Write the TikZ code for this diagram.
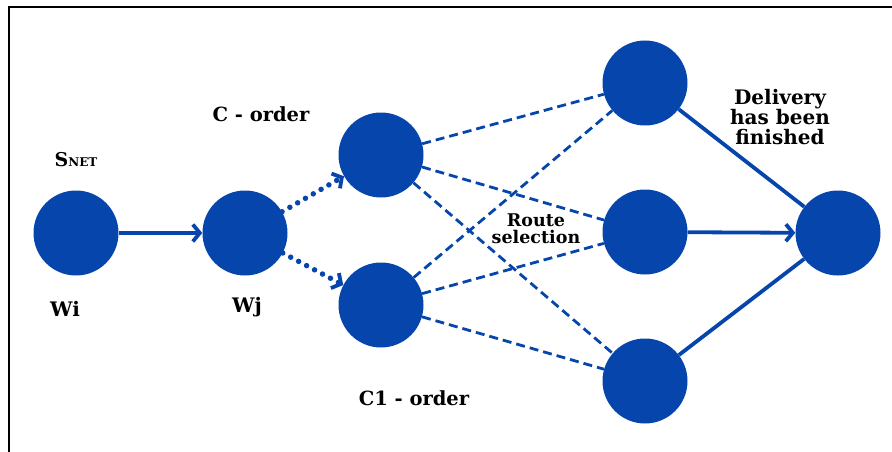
\documentclass[tikz,border=0pt]{standalone}
\usepackage{fontspec}
\setmainfont{DejaVu Serif}
\usetikzlibrary{arrows.meta}
\definecolor{netblue}{RGB}{6,70,172}
\tikzset{
  station/.style={circle, fill=netblue, minimum size=85pt, inner sep=0pt},
  solidlink/.style={draw=netblue, line width=3.8pt},
  dashlink/.style={draw=netblue, line width=2.8pt, dash pattern=on 9pt off 5pt},
  dotlink/.style={draw=netblue, line width=5.5pt, line cap=round, dash pattern=on 0pt off 9pt},
  tip/.style={-{Straight Barb[length=7pt,width=17pt,line width=3.8pt]}},
  lbl/.style={font=\bfseries\fontsize{19.5}{20}\selectfont, text=black, align=center, inner sep=0pt}
}
\begin{document}
\begin{tikzpicture}[x=1pt, y=-1pt]
\useasboundingbox (0,0) rectangle (892,452);
% frame
\draw[line width=1.5pt] (9,452) -- (9,7) -- (892,7);

% stations
\node[station] (wi) at (76,233) {};
\node[station] (wj) at (245,233) {};
\node[station] (c)  at (381,155) {};
\node[station] (c1) at (381,305) {};
\node[station] (r1) at (645,83) {};
\node[station] (r2) at (645,232) {};
\node[station] (r3) at (645,381) {};
\node[station] (d)  at (838,233) {};

% links
\draw[solidlink, tip] (wi) -- (wj);
\draw[dotlink, tip] (wj) -- (c);
\draw[dotlink, tip] (wj) -- (c1);

\foreach \a in {c,c1}
  \foreach \b in {r1,r2,r3}
    \draw[dashlink] (\a) -- (\b);

\draw[solidlink] (r1) -- (d);
\draw[solidlink, tip] (r2) -- (d);
\draw[solidlink] (r3) -- (d);

% labels
\node[lbl] (snet) at (76,160) {\fontsize{19}{19}\selectfont S\fontsize{12}{12}\selectfont NET};
\node[lbl, font=\bfseries\fontsize{20}{20}\selectfont] (lwi) at (65,309) {Wi};
\node[lbl, font=\bfseries\fontsize{20}{20}\selectfont] (lwj) at (247,307) {Wj};
\node[lbl] (lc) at (261,114) {C - order};
\node[lbl] (lc1) at (414,398) {C1 - order};
\node[lbl, font=\bfseries\fontsize{17.5}{17}\selectfont] (route) at (536,229) {Route\\selection};
\node[lbl, font=\bfseries\fontsize{20}{20}\selectfont] (deliv) at (780,117) {Delivery\\has been\\finished};
\end{tikzpicture}
\end{document}
